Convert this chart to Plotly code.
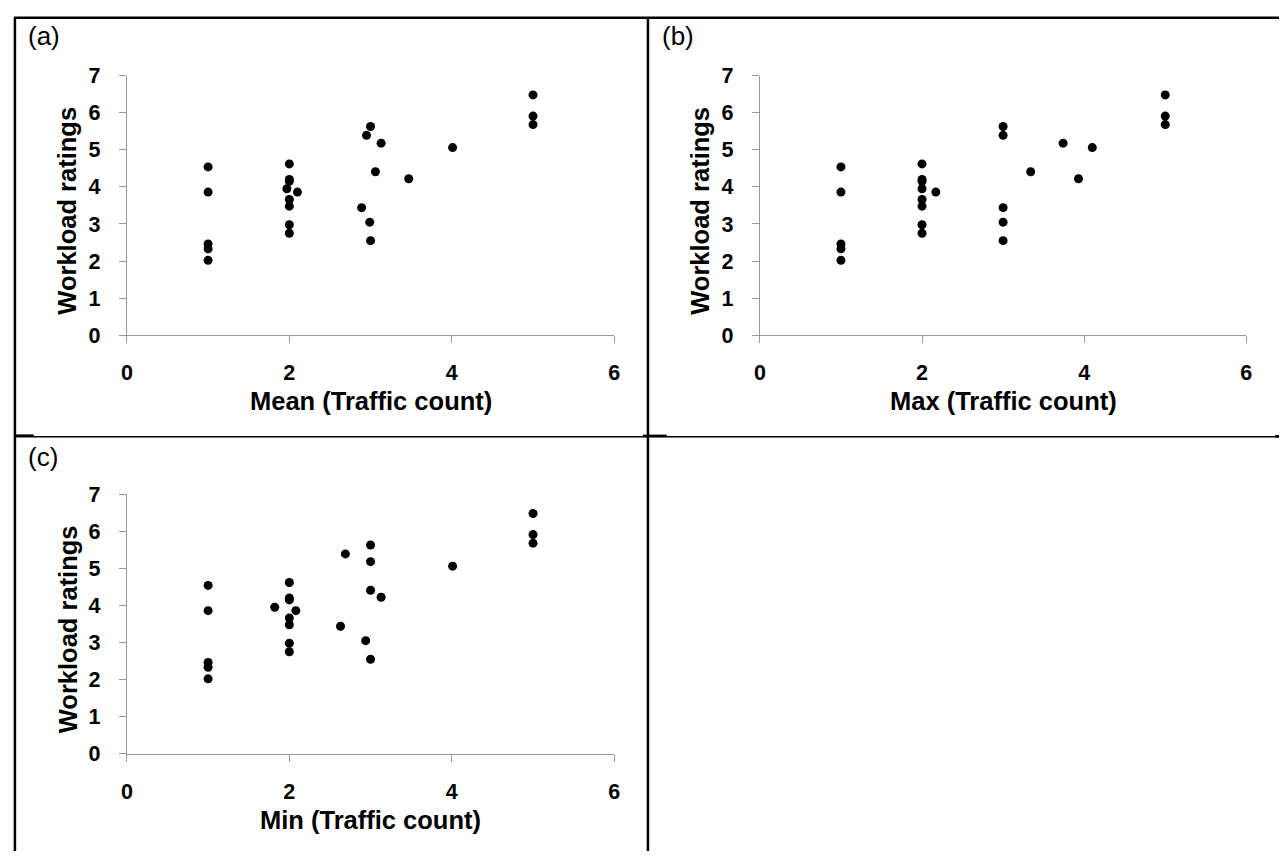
import plotly.graph_objects as go

# ---------------- data ----------------
ratings = [4.54, 3.86, 2.46, 2.33, 2.02,
           4.62, 4.20, 4.15, 3.95, 3.86, 3.66, 3.48, 2.98, 2.75,
           5.63, 5.39, 5.18, 4.41, 4.22, 3.44, 3.05, 2.55,
           5.06,
           6.48, 5.91, 5.68]
mean_x = [1, 1, 1, 1, 1,
          2, 2, 2, 1.97, 2.10, 2, 2, 2, 2,
          3.0, 2.95, 3.13, 3.06, 3.47, 2.89, 2.99, 3.0,
          4.01,
          5, 5, 5]
max_x = [1, 1, 1, 1, 1,
         2, 2, 2, 2, 2.17, 2, 2, 2, 2,
         3, 3, 3.74, 3.34, 3.93, 3, 3, 3,
         4.10,
         5, 5, 5]
min_x = [1, 1, 1, 1, 1,
         2, 2, 2, 1.82, 2.08, 2, 2, 2, 2,
         3, 2.69, 3, 3, 3.13, 2.63, 2.94, 3.0,
         4.01,
         5, 5, 5]
x_titles = ["Mean (Traffic count)", "Max (Traffic count)", "Min (Traffic count)"]
y_title = "Workload ratings"
panel_labels = ["(a)", "(b)", "(c)"]
x_ticks = [0, 2, 4, 6]
y_ticks = [0, 1, 2, 3, 4, 5, 6, 7]

# ---------------- layout helpers ----------------
W, H = 1285, 864
FONT = "Liberation Sans, Arial, sans-serif"


def px(x):
    return x / W


def py(y):
    return 1 - y / H


# plot areas in pixels: (left, right, top(y=7), bottom(y=0))
areas = [(122, 614, 66.5, 333.5), (761, 1252, 66.5, 333.5), (122, 614, 497, 764)]
xs = [mean_x, max_x, min_x]

fig = go.Figure()
layout = dict(width=W, height=H, margin=dict(l=0, r=0, t=0, b=0),
              paper_bgcolor="white", plot_bgcolor="white", showlegend=False,
              font=dict(family=FONT, color="black"))

axis_common = dict(showline=True, linecolor="#999999", linewidth=1.2,
                   ticks="outside", ticklen=7, tickcolor="#999999", tickwidth=1.2,
                   showgrid=False, zeroline=False,
                   tickfont=dict(family=FONT, size=21.5, color="black", weight="bold"))

annotations = []
for i, (xv, (l, r, t, b)) in enumerate(zip(xs, areas)):
    n = "" if i == 0 else str(i + 1)
    fig.add_trace(go.Scatter(x=xv, y=ratings, mode="markers",
                             marker=dict(color="black", size=9),
                             xaxis="x" + n, yaxis="y" + n, cliponaxis=False,
                             hoverinfo="skip"))
    layout["xaxis" + n] = dict(axis_common, domain=[px(l), px(r)], range=[0, 6],
                               tickvals=x_ticks, anchor="y" + n, ticklabelstandoff=11)
    layout["yaxis" + n] = dict(axis_common, domain=[py(b), py(t)], range=[0, 7],
                               tickvals=y_ticks, anchor="x" + n, ticklabelstandoff=14)
    # axis titles
    annotations.append(dict(text=x_titles[i], x=px((l + r) / 2), y=py(b + 68),
                            xref="paper", yref="paper", showarrow=False,
                            xanchor="center", yanchor="middle",
                            font=dict(family=FONT, size=25.5, color="black", weight="bold")))
    annotations.append(dict(text=y_title, x=px(l - 60), y=py((t + b) / 2 + 5),
                            xref="paper", yref="paper", showarrow=False, textangle=-90,
                            xanchor="center", yanchor="middle",
                            font=dict(family=FONT, size=25.5, color="black", weight="bold")))

label_pos = [(20, 26), (660, 26), (20, 459)]
for lab, (lx, ly) in zip(panel_labels, label_pos):
    annotations.append(dict(text=lab, x=px(lx), y=py(ly), xref="paper", yref="paper",
                            showarrow=False, xanchor="left", yanchor="middle",
                            font=dict(family=FONT, size=26, color="black")))

shapes = []


def line(x0, y0, x1, y1, w=2):
    shapes.append(dict(type="line", xref="paper", yref="paper",
                       x0=px(x0), y0=py(y0), x1=px(x1), y1=py(y1),
                       line=dict(color="black", width=w)))


line(8, 7, 1285, 7, 2.5)       # top border
line(9, 7, 9, 864, 2.5)        # left border
line(648, 7, 648, 864, 2.5)    # middle vertical
line(9, 438, 1285, 438, 1.5)   # middle horizontal
line(9, 436.5, 28, 436.5, 2)
line(643, 437, 667, 437, 2.5)
line(1281, 437.5, 1285, 437.5, 2.5)

layout["annotations"] = annotations
layout["shapes"] = shapes
fig.update_layout(**layout)
fig.write_html("out.html",
               config={"displayModeBar": False},
               post_script="document.body.style.margin='0';"
                           "document.body.style.padding='0';"
                           "document.body.style.overflow='hidden';")
